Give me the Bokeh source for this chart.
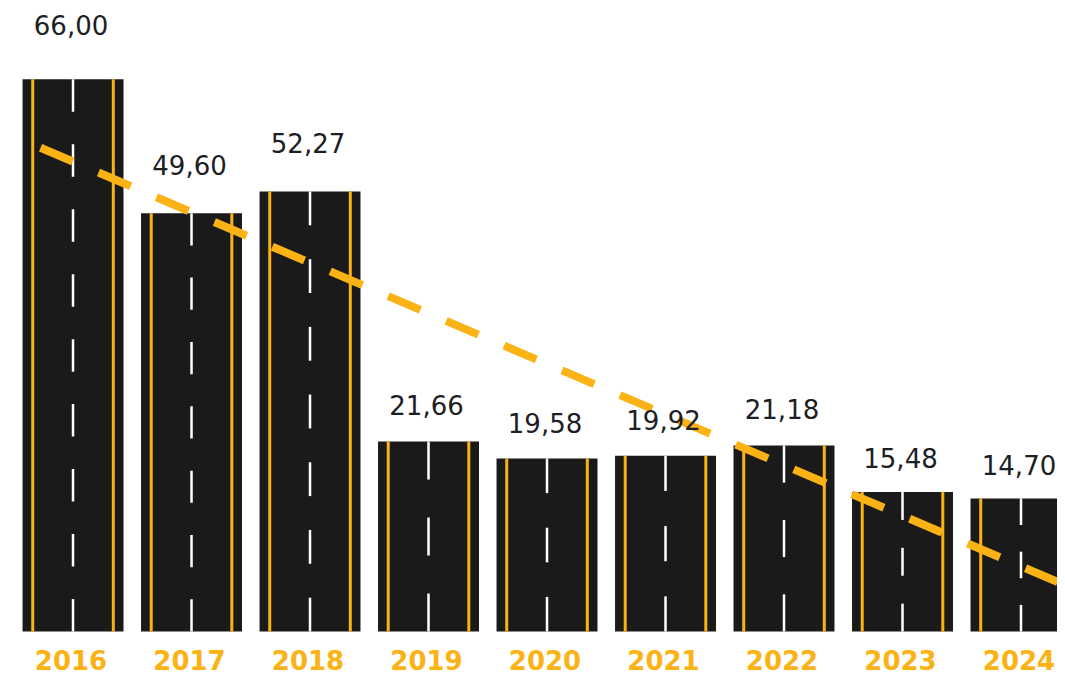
import numpy as np
from bokeh.plotting import figure
from bokeh.models import Range1d, ColumnDataSource
from bokeh.core.properties import value
from bokeh.embed import file_html
from bokeh.resources import INLINE

years = ["2016", "2017", "2018", "2019", "2020", "2021", "2022", "2023", "2024"]
values = [66.00, 49.60, 52.27, 21.66, 19.58, 19.92, 21.18, 15.48, 14.70]

ROAD = "#1a1a1a"
ORANGE = "#fbb215"
TEXT = "#1c2024"

x = np.arange(len(years), dtype=float)
v = np.array(values)

W, H = 1057, 678
Y_TOP, Y_BOT = 75.64, -7.34
ROAD_BASE = -1.59
px_per_unit = H / (Y_TOP - Y_BOT)

p = figure(width=W, height=H, output_backend="svg",
           toolbar_location=None, min_border=0,
           x_range=Range1d(-0.612, 8.308), y_range=Range1d(Y_BOT, Y_TOP))
p.outline_line_color = None
p.xgrid.visible = False
p.ygrid.visible = False
p.axis.visible = False
p.background_fill_color = "white"
p.border_fill_color = "white"

BW = 0.852
# road bars
p.vbar(x=x, top=v, bottom=ROAD_BASE, width=BW, fill_color=ROAD, line_color=None)

# orange edge lines
EDGE = 0.34
ex = np.concatenate([x - EDGE, x + EDGE])
p.segment(x0=ex, y0=ROAD_BASE, x1=ex, y1=np.concatenate([v, v]),
          line_color=ORANGE, line_width=3)

# white center dashes: odd number of equal segments per bar, anchored at bottom
sx, sy0, sy1 = [], [], []
for xi, vi in zip(x, v):
    h = vi - ROAD_BASE
    hpx = h * px_per_unit
    n = 2 * int(round((hpx / 32 - 1) / 2)) + 1
    seg = h / n
    for k in range(0, n, 2):
        sx.append(xi)
        sy0.append(ROAD_BASE + k * seg)
        sy1.append(ROAD_BASE + (k + 1) * seg)
p.segment(x0=sx, y0=sy0, x1=sx, y1=sy1, line_color="white", line_width=2.5)

# trend line (linear regression)
slope, intercept = np.polyfit(x, v, 1)
tx = np.array([-0.274, 8.6])
p.line(tx, slope * tx + intercept, line_color=ORANGE, line_width=8,
       line_dash="35 28", line_cap="butt")

# value labels
labels = [f"{val:.2f}".replace(".", ",") for val in values]
src = ColumnDataSource(dict(x=x, y=1.05 * v + 3.37, t=labels))
p.text(x="x", y="y", text="t", source=src, text_font=value("DejaVu Sans"),
       text_font_size="26px", text_color=TEXT, text_align="center",
       text_baseline="alphabetic", x_offset=-2)

# year labels
ysrc = ColumnDataSource(dict(x=x, y=np.full(len(x), -5.12), t=years))
p.text(x="x", y="y", text="t", source=ysrc, text_font=value("DejaVu Sans"),
       text_font_style="bold", text_font_size="26px", text_color=ORANGE,
       text_align="center", text_baseline="alphabetic", x_offset=-2)

open("out.html", "w").write(file_html(p, INLINE))
